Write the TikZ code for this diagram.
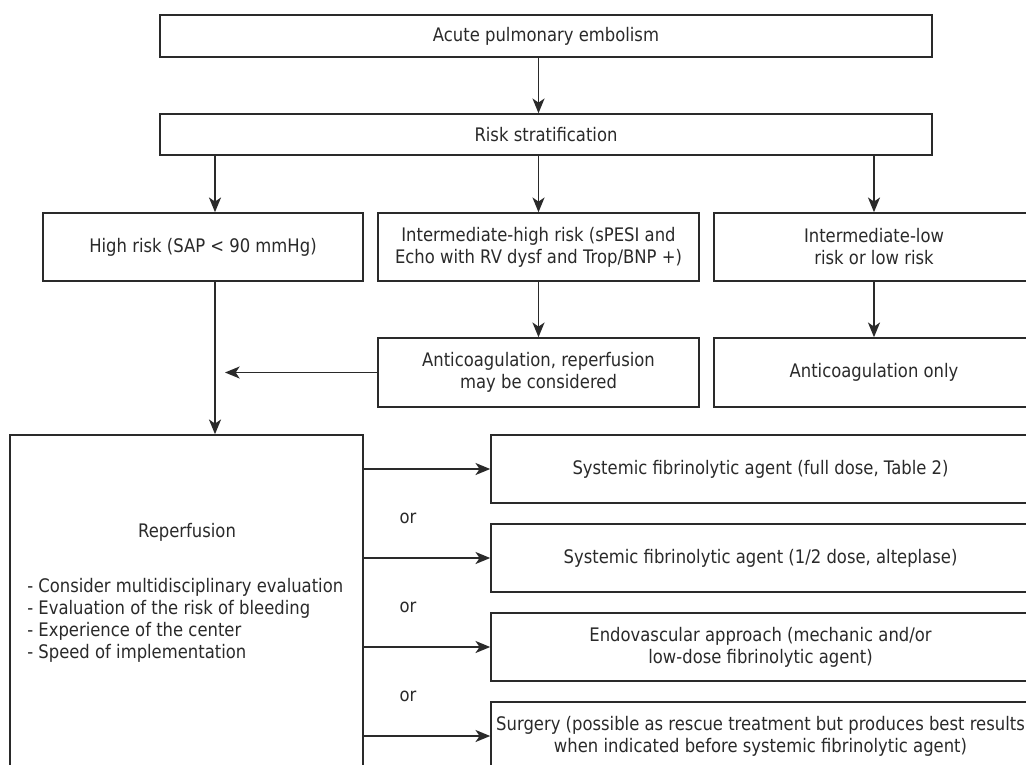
\documentclass[tikz,border=0pt]{standalone}
\usepackage{fontspec}
\setmainfont{DejaVu Sans}[FakeStretch=0.88]
\usetikzlibrary{arrows.meta}
\definecolor{ink}{HTML}{2A2A2A}

\begin{document}
\begin{tikzpicture}[x=0.75pt,y=-0.75pt,
  font=\fontsize{14}{16.5}\selectfont,text=ink,
  >={Stealth[length=11pt,width=9pt,inset=3pt]},
  box/.style 2 args={draw=ink,line width=1.2pt,inner sep=0pt,align=center,
    minimum width=#1*0.75pt,minimum height=#2*0.75pt},
  arr/.style={->,draw=ink,line width=1.2pt}]
  \useasboundingbox (0,0) rectangle (1026,765);
  \clip (0,0) rectangle (1026,765);
  \fill[white] (0,0) rectangle (1026,765);

  % entry and stratification
  \node[box={772}{42}] (pe) at (546,36) {Acute pulmonary embolism};
  \node[box={772}{41}] (strat) at (546,134.5) {Risk stratification};

  % risk classes
  \node[box={320}{68}] (high) at (203,247) {High risk (SAP < 90 mmHg)};
  \node[box={321}{68}] (ihigh) at (538.5,247)
    {Intermediate-high risk (sPESI and\\Echo with RV dysf and Trop/BNP +)};
  \node[box={320}{68}] (ilow) at (874,247)
    {Intermediate-low\\risk or low risk};
  \node[box={321}{69}] (anticoag) at (538.5,372.5)
    {Anticoagulation, reperfusion\\may be considered};
  \node[box={320}{69}] (anticonly) at (874,372.5) {Anticoagulation only};

  % reperfusion block
  \node[box={353}{385}] (reperf) at (186.5,627.5) {};
  \node (reptitle) at (187,532) {Reperfusion};
  \node[anchor=west,align=left,inner sep=0pt] (replist) at (27,620)
    {- Consider multidisciplinary evaluation\\
     - Evaluation of the risk of bleeding\\
     - Experience of the center\\
     - Speed of implementation};

  \node[box={539}{68}] (sys1) at (760.5,469)
    {Systemic fibrinolytic agent (full dose, Table 2)};
  \node[box={539}{68}] (sys2) at (760.5,558)
    {Systemic fibrinolytic agent (1/2 dose, alteplase)};
  \node[box={539}{68}] (endo) at (760.5,647)
    {Endovascular approach (mechanic and/or\\low-dose fibrinolytic agent)};
  \node[box={539}{68}] (surg) at (760.5,736)
    {Surgery (possible as rescue treatment but produces best results\\
     when indicated before systemic fibrinolytic agent)};
  \foreach \y [count=\i] in {518,607,696}
    \node (or\i) at (408,\y) {or};

  % connectors
  \coordinate (hrline) at (215,0);
  \coordinate (tip) at (225,0);
  \draw[arr] (pe.south -| ihigh) -- (strat.north -| ihigh);
  \draw[arr] (strat.south -| hrline) -- (high.north -| hrline);
  \draw[arr] (strat.south -| ihigh) -- (ihigh.north);
  \draw[arr] (strat.south -| ilow) -- (ilow.north);
  \draw[arr] (ihigh) -- (anticoag);
  \draw[arr] (ilow) -- (anticonly);
  \draw[arr] (high.south -| hrline) -- (reperf.north -| hrline);
  \draw[arr] (anticoag.west) -- (anticoag.west -| tip);
  \foreach \t in {sys1,sys2,endo,surg}
    \draw[arr] (reperf.east |- \t.west) -- (\t.west);
\end{tikzpicture}
\end{document}
